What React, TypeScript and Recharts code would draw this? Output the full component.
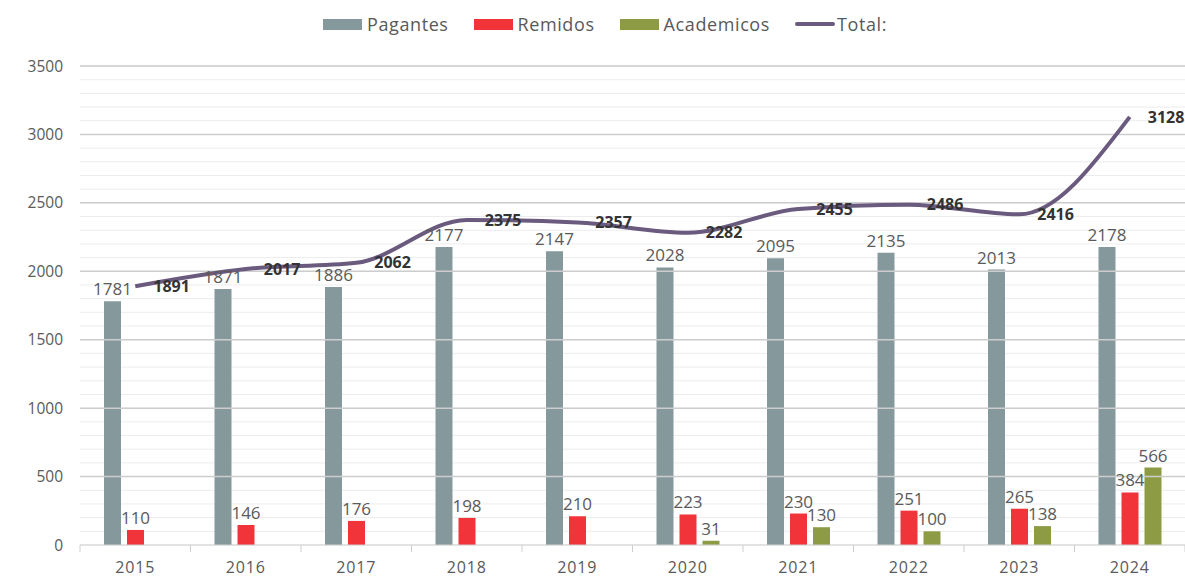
import {
  ComposedChart,
  Bar,
  Line,
  XAxis,
  YAxis,
  CartesianGrid,
  LabelList,
  ReferenceLine,
} from "recharts";

const years = ["2015", "2016", "2017", "2018", "2019", "2020", "2021", "2022", "2023", "2024"];
const pagantes = [1781, 1871, 1886, 2177, 2147, 2028, 2095, 2135, 2013, 2178];
const remidos = [110, 146, 176, 198, 210, 223, 230, 251, 265, 384];
const academicos = [null, null, null, null, null, 31, 130, 100, 138, 566];
const total = [1891, 2017, 2062, 2375, 2357, 2282, 2455, 2486, 2416, 3128];

const yTicks = [
  0, 100, 200, 300, 400, 500, 600, 700, 800, 900, 1000, 1100, 1200, 1300, 1400, 1500, 1600, 1700,
  1800, 1900, 2000, 2100, 2200, 2300, 2400, 2500, 2600, 2700, 2800, 2900, 3000, 3100, 3200, 3300,
  3400, 3500,
];
const majorTicks = [500, 1000, 1500, 2000, 2500, 3000, 3500];

const data = years.map((year, i) => ({
  year,
  pagantes: pagantes[i],
  remidos: remidos[i],
  academicos: academicos[i],
  total: total[i],
}));

const W = 1185;
const H = 577;
const Y_AXIS_W = 80;
const BAND = (W - Y_AXIS_W) / years.length;
const FONT = "'Open Sans', sans-serif";

const C_PAG = "#85989c";
const C_REM = "#f1333a";
const C_ACA = "#8c9b44";
const C_TOT = "#6a5a7e";

function YearTick(props: any) {
  const { x, y, payload, index } = props;
  return (
    <g>
      <line x1={x - BAND / 2} x2={x - BAND / 2} y1={y} y2={y + 7} stroke="#cfcfcf" />
      {index === years.length - 1 && (
        <line x1={x + BAND / 2} x2={x + BAND / 2} y1={y} y2={y + 7} stroke="#cfcfcf" />
      )}
      <text
        x={x}
        y={y + 22}
        textAnchor="middle"
        dominantBaseline="central"
        fill="#5a5a5a"
        fontSize={16}
        letterSpacing={0.8}
        fontFamily={FONT}
      >
        {payload.value}
      </text>
    </g>
  );
}

function LegendBox({ color, label, line }: { color: string; label: string; line?: boolean }) {
  return (
    <div style={{ display: "flex", alignItems: "center", marginRight: line ? 0 : 25 }}>
      {line ? (
        <div style={{ width: 40, height: 4, background: color, borderRadius: 2 }} />
      ) : (
        <div style={{ width: 39, height: 11, background: color }} />
      )}
      <span style={{ marginLeft: line ? 2 : 5, fontSize: 18, letterSpacing: 0.6, color: "#595959" }}>
        {label}
      </span>
    </div>
  );
}

export default function App() {
  return (
    <div
      style={{
        position: "absolute",
        left: 0,
        top: 0,
        width: W,
        height: H,
        background: "#fff",
        fontFamily: FONT,
      }}
    >
      <div style={{ position: "absolute", top: 12, left: 323, display: "flex", alignItems: "center" }}>
        <LegendBox color={C_PAG} label="Pagantes" />
        <LegendBox color={C_REM} label="Remidos" />
        <LegendBox color={C_ACA} label="Academicos" />
        <LegendBox color={C_TOT} label="Total:" line />
      </div>
      <ComposedChart
        width={W}
        height={H}
        data={data}
        margin={{ top: 66, right: 0, bottom: 0, left: 0 }}
        barSize={17}
        barGap={6}
      >
        <CartesianGrid vertical={false} stroke="#ececec" />
        {majorTicks.map((v) => (
          <ReferenceLine key={v} y={v} stroke="#cdcdcd" strokeWidth={1.5} />
        ))}
        <XAxis
          dataKey="year"
          height={32}
          axisLine={{ stroke: "#cfcfcf" }}
          tickLine={false}
          tickSize={0}
          tickMargin={0}
          tick={<YearTick />}
          interval={0}
        />
        <YAxis
          width={Y_AXIS_W}
          domain={[0, 3500]}
          ticks={yTicks}
          interval={0}
          axisLine={false}
          tickLine={false}
          tickSize={0}
          tickMargin={17}
          tickFormatter={(v: number) => (v % 500 === 0 ? String(v) : "")}
          tick={{ fill: "#5a5a5a", fontSize: 15.5, fontFamily: FONT }}
        />
        <Bar dataKey="pagantes" fill={C_PAG} isAnimationActive={false}>
          <LabelList dataKey="pagantes" position="top" offset={6} fill="#5a5a5a" fontSize={17} fontFamily={FONT} />
        </Bar>
        <Bar dataKey="remidos" fill={C_REM} isAnimationActive={false}>
          <LabelList dataKey="remidos" position="top" offset={6} fill="#5a5a5a" fontSize={17} fontFamily={FONT} />
        </Bar>
        <Bar dataKey="academicos" fill={C_ACA} isAnimationActive={false}>
          <LabelList dataKey="academicos" position="top" offset={6} fill="#5a5a5a" fontSize={17} fontFamily={FONT} />
        </Bar>
        <Line
          type="monotone"
          dataKey="total"
          stroke={C_TOT}
          strokeWidth={4}
          dot={false}
          activeDot={false}
          isAnimationActive={false}
        >
          <LabelList
            dataKey="total"
            position="right"
            offset={18}
            fill="#333"
            fontSize={16}
            fontWeight="bold"
            fontFamily={FONT}
          />
        </Line>
      </ComposedChart>
    </div>
  );
}
